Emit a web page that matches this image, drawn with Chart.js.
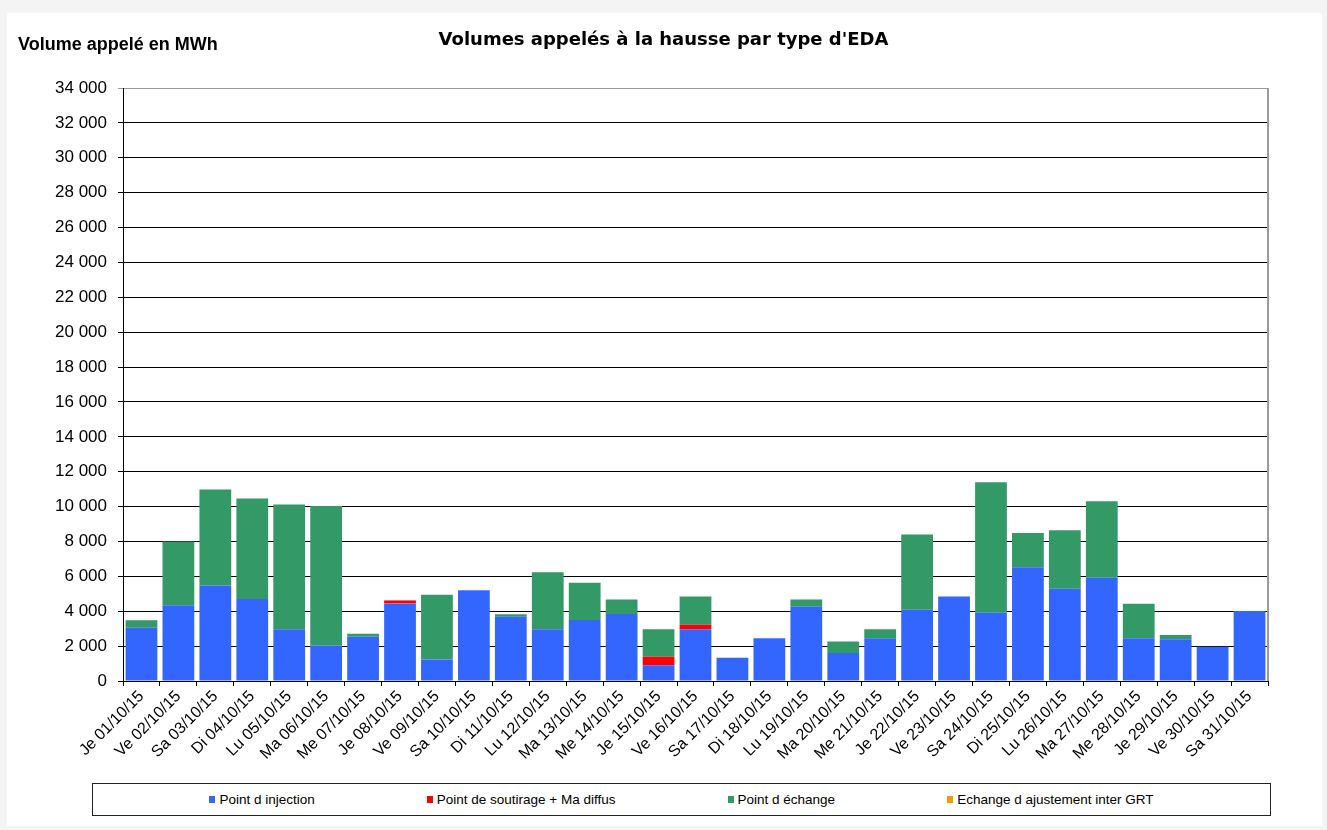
<!DOCTYPE html>
<html lang="fr">
<head>
<meta charset="utf-8">
<title>Volumes appelés à la hausse par type d'EDA</title>
<script src="https://cdn.jsdelivr.net/npm/chart.js@4.4.1/dist/chart.umd.min.js"></script>
<style>
    body { margin: 0; background: #f4f4f4; font-family: "Liberation Sans", Arial, sans-serif; }
    #panel { position: absolute; left: 7px; top: 13px; width: 1315px; height: 813px; background: #fff; }
    #myChart { position: absolute; left: 0; top: 0; }
    #chartTitle { position: absolute; left: 0; top: 28px; width: 1327px; text-align: center;
        font: bold 18px "DejaVu Sans", sans-serif; color: #000; }
    #yTitle { position: absolute; left: 18px; top: 34px; font: bold 18px "Liberation Sans", Arial, sans-serif; color: #000; }
    #legend { position: absolute; left: 92px; top: 783px; width: 1177px; height: 31px;
        border: 1.5px solid #222; display: flex; justify-content: center; align-items: center; gap: 112px;
        font: 13.5px "Liberation Sans", Arial, sans-serif; color: #000; }
    .legend-item { display: flex; align-items: center; }
    .legend-box { width: 6px; height: 7px; margin-right: 4px; }
</style>
</head>
<body>
<div id="panel"></div>
<canvas id="myChart" width="1327" height="775"></canvas>
<div id="chartTitle">Volumes appelés à la hausse par type d'EDA</div>
<div id="yTitle">Volume appelé en MWh</div>
<div id="legend"></div>
<script>
const days = ['Je 01/10/15', 'Ve 02/10/15', 'Sa 03/10/15', 'Di 04/10/15', 'Lu 05/10/15', 'Ma 06/10/15',
    'Me 07/10/15', 'Je 08/10/15', 'Ve 09/10/15', 'Sa 10/10/15', 'Di 11/10/15', 'Lu 12/10/15',
    'Ma 13/10/15', 'Me 14/10/15', 'Je 15/10/15', 'Ve 16/10/15', 'Sa 17/10/15', 'Di 18/10/15',
    'Lu 19/10/15', 'Ma 20/10/15', 'Me 21/10/15', 'Je 22/10/15', 'Ve 23/10/15', 'Sa 24/10/15',
    'Di 25/10/15', 'Lu 26/10/15', 'Ma 27/10/15', 'Me 28/10/15', 'Je 29/10/15', 'Ve 30/10/15', 'Sa 31/10/15'];

// volumes in MWh, one value per day
const injection = [3050, 4340, 5480, 4700, 2960, 2030, 2540, 4450, 1240, 5200, 3690, 2960, 3500, 3840, 900, 2960,
    1340, 2450, 4260, 1600, 2450, 4090, 4850, 3920, 6520, 5290, 5920, 2450, 2390, 1970, 4010];
const soutirage = [0, 0, 0, 0, 0, 0, 0, 170, 0, 0, 0, 0, 0, 0, 490, 270,
    0, 0, 0, 0, 0, 0, 0, 0, 0, 0, 0, 0, 0, 0, 0];
const echange = [430, 3660, 5500, 5770, 7160, 8000, 170, 0, 3700, 0, 130, 3270, 2130, 840, 1570, 1620,
    0, 0, 420, 670, 510, 4310, 0, 7480, 1960, 3360, 4380, 1980, 250, 0, 0];
const ajustement = [0, 0, 0, 0, 0, 0, 0, 0, 0, 0, 0, 0, 0, 0, 0, 0,
    0, 0, 0, 0, 0, 0, 0, 0, 0, 0, 0, 0, 0, 0, 0];

const yMax = 34000;
const yStep = 2000;

const ctx = document.getElementById('myChart').getContext('2d');

// gray right edge of the plot area
const plotBorder = {
    id: 'plotBorder',
    afterDraw(chart) {
        const { ctx, chartArea } = chart;
        ctx.save();
        ctx.strokeStyle = '#9a9a9a';
        ctx.lineWidth = 2;
        ctx.beginPath();
        ctx.moveTo(chartArea.right, chartArea.top);
        ctx.lineTo(chartArea.right, chartArea.bottom);
        ctx.stroke();
        ctx.restore();
    }
};

const myChart = new Chart(ctx, {
    type: 'bar',
    data: {
        labels: days,
        datasets: [
            { label: 'Point d injection', data: injection, backgroundColor: '#3366ff' },
            { label: 'Point de soutirage + Ma diffus', data: soutirage, backgroundColor: '#ff0000' },
            { label: 'Point d échange', data: echange, backgroundColor: '#339966' },
            { label: 'Echange d ajustement inter GRT', data: ajustement, backgroundColor: '#ff9900' }
        ]
    },
    options: {
        responsive: false,
        animation: false,
        layout: { padding: { left: 0, right: 59, top: 88, bottom: 0 } },
        datasets: { bar: { barPercentage: 0.86, categoryPercentage: 1, borderWidth: 0 } },
        plugins: {
            legend: { display: false },
            title: { display: false },
            tooltip: { enabled: false }
        },
        scales: {
            x: {
                stacked: true,
                grid: { drawOnChartArea: false, drawTicks: true, tickLength: 5, color: '#000' },
                border: { color: '#000', width: 1 },
                ticks: {
                    autoSkip: false, minRotation: 45, maxRotation: 45, padding: 1,
                    color: '#000', font: { family: '"Liberation Sans", Arial, sans-serif', size: 16 }
                },
                afterFit(scale) { scale.height = 94; }
            },
            y: {
                stacked: true,
                min: 0,
                max: yMax,
                grid: {
                    color: c => (c.tick && c.tick.value === yMax ? '#9a9a9a' : '#000'),
                    tickLength: 5
                },
                border: { color: '#000', width: 1 },
                ticks: {
                    stepSize: yStep, padding: 11, color: '#000',
                    font: { family: '"Liberation Sans", Arial, sans-serif', size: 17 },
                    callback: v => String(v).replace(/\B(?=(\d{3})+(?!\d))/g, ' ')
                },
                afterFit(scale) { scale.width = 123; }
            }
        }
    },
    plugins: [plotBorder]
});

// legend built from the chart's datasets
const legend = document.getElementById('legend');
myChart.data.datasets.forEach(ds => {
    const item = document.createElement('div');
    item.className = 'legend-item';
    const box = document.createElement('span');
    box.className = 'legend-box';
    box.style.background = ds.backgroundColor;
    const text = document.createElement('span');
    text.textContent = ds.label;
    item.appendChild(box);
    item.appendChild(text);
    legend.appendChild(item);
});
</script>
</body>
</html>
